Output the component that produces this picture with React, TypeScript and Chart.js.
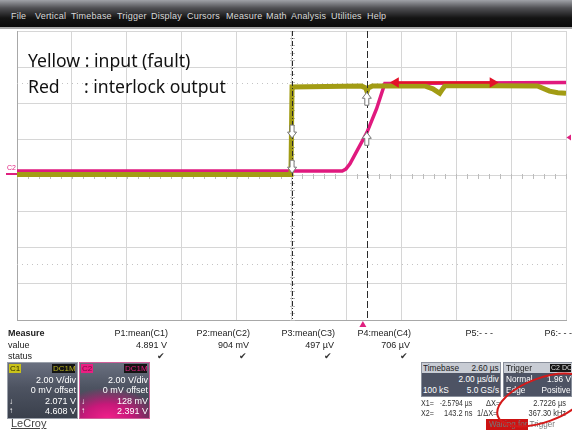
import React, { useEffect, useRef } from "react";
import { Chart, registerables } from "chart.js";

Chart.register(...registerables);

// ---------- data (µs, V) ----------
const X_MIN = -12.6;
const X_MAX = 7.4;
const X_DIV = 2; // 2 µs/div
const Y_MIN = -8;
const Y_MAX = 8;
const Y_DIV = 2; // 2 V/div

const yellowTime = [-12.6, -2.62, -2.58, -0.05, 0.1, 0.15, 0.2, 0.35, 2.25, 2.55, 2.8, 2.9, 3.0, 6.36, 6.8, 7.1, 7.4];
const yellowVolts = [0.05, 0.05, 4.9, 4.95, 4.85, 4.65, 4.85, 4.96, 4.96, 4.8, 4.55, 4.78, 4.98, 4.96, 4.67, 4.58, 4.55];

const redTime = [-12.6, -0.75, -0.62, -0.47, 0.15, 0.5, 0.8, 7.4];
const redVolts = [0.25, 0.25, 0.35, 0.65, 2.39, 3.7, 5.1, 5.15];

const markerTime = [1.2, 4.73];
const markerVolts = [5.15, 5.15];

const cursorTimes = [-2.5794, 0.1432];
const cursorC1 = [2.071, 4.608];
const cursorC2 = [0.128, 2.391];

const refLevels = [5.1, -4.9];
const triggerLevel = 2.1;
const triggerTime = 0;

const menuItems = ["File", "Vertical", "Timebase", "Trigger", "Display", "Cursors", "Measure", "Math", "Analysis", "Utilities", "Help"];
const menuX = [11, 35, 71, 117, 151, 187, 226, 266, 291, 331, 367];

const measNames = ["P1:mean(C1)", "P2:mean(C2)", "P3:mean(C3)", "P4:mean(C4)", "P5:- - -", "P6:- - -"];
const measValues = ["4.891 V", "904 mV", "497 µV", "706 µV", "", ""];
const measStatus = [true, true, true, true, false, false];
const measRight = [168, 250, 335, 411, 493, 572];

const font = "'Liberation Sans', Arial, sans-serif";

function Txt(props: any) {
  const { x, y, r, children, size = 9, color = "#222", bold = false, style = {}, fam = font, sx } = props;
  const s: any = {
    position: "absolute",
    top: y - size * 0.6,
    fontSize: size,
    lineHeight: `${size * 1.2}px`,
    color,
    fontWeight: bold ? 700 : 400,
    whiteSpace: "nowrap",
    fontFamily: fam,
    ...style,
  };
  if (r !== undefined) s.right = 572 - r;
  else s.left = x;
  if (sx) {
    s.transform = `scaleX(${sx})`;
    s.transformOrigin = r !== undefined ? "right center" : "left center";
  }
  return <div style={s}>{children}</div>;
}

const scopePlugin = {
  id: "scope",
  beforeDatasetsDraw(chart: any) {
    const { ctx, chartArea: a, scales } = chart;
    const xs = scales.x, ys = scales.y;
    ctx.save();
    ctx.strokeStyle = "#c4c4c4";
    ctx.lineWidth = 1;
    ctx.setLineDash([1, 4]);
    for (const v of refLevels) {
      const py = Math.round(ys.getPixelForValue(v)) + 0.5;
      ctx.beginPath();
      ctx.moveTo(a.left, py);
      ctx.lineTo(a.right, py);
      ctx.stroke();
    }
    ctx.setLineDash([]);
    ctx.strokeStyle = "#bcbcbc";
    const cy = Math.round(ys.getPixelForValue(0)) + 0.5;
    for (let t = X_MIN; t <= X_MAX + 1e-6; t += X_DIV / 5) {
      const px = Math.round(xs.getPixelForValue(t)) + 0.5;
      ctx.beginPath();
      ctx.moveTo(px, cy - 2.5);
      ctx.lineTo(px, cy + 2.5);
      ctx.stroke();
    }
    const cx = Math.round(xs.getPixelForValue((X_MIN + X_MAX) / 2)) + 0.5;
    for (let v = Y_MIN; v <= Y_MAX + 1e-6; v += Y_DIV / 5) {
      const py = Math.round(ys.getPixelForValue(v)) + 0.5;
      ctx.beginPath();
      ctx.moveTo(cx - 2.5, py);
      ctx.lineTo(cx + 2.5, py);
      ctx.stroke();
    }
    ctx.restore();
  },
  afterDatasetsDraw(chart: any) {
    const { ctx, chartArea: a, scales } = chart;
    const xs = scales.x, ys = scales.y;
    ctx.save();
    ctx.strokeStyle = "#2a2a2a";
    ctx.lineWidth = 1;
    cursorTimes.forEach((t, i) => {
      const px = Math.round(xs.getPixelForValue(t)) + 0.5;
      ctx.setLineDash(i === 0 ? [5, 2, 1, 2] : [7, 3]);
      ctx.beginPath();
      ctx.moveTo(px, a.top);
      ctx.lineTo(px, a.bottom);
      ctx.stroke();
    });
    ctx.setLineDash([]);
    const arrow = (x: number, tip: number, dir: number) => {
      const h = 13, headL = 6, headW = 4.5, shaftW = 2;
      const base = tip - dir * h;
      const neck = tip - dir * headL;
      ctx.beginPath();
      ctx.moveTo(x - shaftW, base);
      ctx.lineTo(x + shaftW, base);
      ctx.lineTo(x + shaftW, neck);
      ctx.lineTo(x + headW, neck);
      ctx.lineTo(x, tip);
      ctx.lineTo(x - headW, neck);
      ctx.lineTo(x - shaftW, neck);
      ctx.closePath();
      ctx.fillStyle = "#ffffff";
      ctx.fill();
      ctx.strokeStyle = "#777";
      ctx.lineWidth = 1;
      ctx.stroke();
    };
    cursorTimes.forEach((t, i) => {
      const px = xs.getPixelForValue(t);
      const dir = i === 0 ? 1 : -1;
      arrow(px, ys.getPixelForValue(cursorC1[i]), dir);
      arrow(px, ys.getPixelForValue(cursorC2[i]), dir);
    });
    ctx.fillStyle = "#e0207f";
    const tl = ys.getPixelForValue(triggerLevel);
    ctx.beginPath();
    ctx.moveTo(a.right + 0.5, tl);
    ctx.lineTo(a.right + 5, tl - 3);
    ctx.lineTo(a.right + 5, tl + 3);
    ctx.closePath();
    ctx.fill();
    const tp = xs.getPixelForValue(triggerTime);
    ctx.beginPath();
    ctx.moveTo(tp, a.bottom + 1);
    ctx.lineTo(tp + 3.5, a.bottom + 7);
    ctx.lineTo(tp - 3.5, a.bottom + 7);
    ctx.closePath();
    ctx.fill();
    ctx.restore();
  },
};

function ScopeChart() {
  const ref = useRef<HTMLCanvasElement | null>(null);
  useEffect(() => {
    if (!ref.current) return;
    const toXY = (ts: number[], vs: number[]) => ts.map((t, i) => ({ x: t, y: vs[i] }));
    const chart = new Chart(ref.current, {
      type: "line",
      data: {
        datasets: [
          {
            label: "marker",
            data: toXY(markerTime, markerVolts),
            borderColor: "#e3122a",
            backgroundColor: "#e3122a",
            borderWidth: 2.5,
            pointRadius: 6,
            pointStyle: "triangle",
            pointRotation: [-90, 90] as any,
            pointBorderWidth: 0,
            order: 0,
          },
          {
            label: "Yellow",
            data: toXY(yellowTime, yellowVolts),
            borderColor: "#a29c14",
            borderWidth: 5,
            pointRadius: 0,
            tension: 0,
            order: 1,
          },
          {
            label: "Red",
            data: toXY(redTime, redVolts),
            borderColor: "#e0197e",
            borderWidth: 3.5,
            pointRadius: 0,
            tension: 0,
            order: 2,
          },
        ],
      },
      options: {
        responsive: false,
        animation: false,
        events: [],
        layout: { padding: { left: 17, top: 31, right: 5, bottom: 112 } },
        plugins: { legend: { display: false }, tooltip: { enabled: false } },
        scales: {
          x: {
            type: "linear",
            min: X_MIN,
            max: X_MAX,
            afterBuildTicks: (s: any) => {
              s.ticks = Array.from({ length: 11 }, (_, i) => ({ value: X_MIN + X_DIV * i }));
            },
            ticks: { display: false },
            grid: { color: "#d6d6d6", drawTicks: false, lineWidth: 1 },
            border: { display: true, color: "#a8a8a8" },
          },
          y: {
            type: "linear",
            min: Y_MIN,
            max: Y_MAX,
            afterBuildTicks: (s: any) => {
              s.ticks = Array.from({ length: 9 }, (_, i) => ({ value: Y_MIN + Y_DIV * i }));
            },
            ticks: { display: false },
            grid: { color: "#d6d6d6", drawTicks: false, lineWidth: 1 },
            border: { display: true, color: "#a8a8a8" },
          },
        },
      },
      plugins: [scopePlugin],
    } as any);
    return () => chart.destroy();
  }, []);
  return <canvas ref={ref} width={572} height={432} style={{ position: "absolute", left: 0, top: 0, width: 572, height: 432 }} />;
}

const boxBg = "linear-gradient(#6a7080, #4d5361 45%, #3a404c)";

export default function App() {
  return (
    <div style={{ position: "absolute", left: 0, top: 0, width: 572, height: 432, overflow: "hidden", background: "#fff", fontFamily: font }}>
      <div style={{ position: "absolute", left: 0, top: 0, width: 572, height: 27, background: "linear-gradient(#a0a2a8 0px, #505054 8px, #141414 18px, #0a0a0a 27px)", borderBottom: "2px solid #a8a8a8" }} />
      {menuItems.map((m, i) => (
        <Txt key={m} x={menuX[i]} y={16} size={9} color="#d8d8d8" style={{ letterSpacing: 0.2 }}>{m}</Txt>
      ))}

      <ScopeChart />

      {/* C2 ground marker */}
      <div style={{ position: "absolute", left: 6, top: 173, width: 11, height: 2, background: "#e0207f" }} />
      <Txt x={7} y={168.5} size={7} color="#e0207f">C2</Txt>

      <Txt x={28} y={61} size={17.6} color="#111" fam="'Noto Sans', sans-serif">Yellow : input (fault)</Txt>
      <Txt x={28} y={87} size={17.6} color="#111" fam="'Noto Sans', sans-serif">Red</Txt>
      <Txt x={84} y={87} size={17.6} color="#111" fam="'Noto Sans', sans-serif">: interlock output</Txt>

      <Txt x={8} y={333} bold>Measure</Txt>
      <Txt x={8} y={345}>value</Txt>
      <Txt x={8} y={356}>status</Txt>
      {measNames.map((n, i) => (
        <React.Fragment key={n}>
          <Txt r={measRight[i]} y={333}>{n}</Txt>
          {measValues[i] && <Txt r={measRight[i] - 1} y={345}>{measValues[i]}</Txt>}
          {measStatus[i] && <Txt r={measRight[i] - 3} y={356} color="#333">✔</Txt>}
        </React.Fragment>
      ))}

      {/* C1 box */}
      <div style={{ position: "absolute", left: 7, top: 362, width: 69, height: 55, background: boxBg, border: "1px solid #9aa0aa" }} />
      <div style={{ position: "absolute", left: 9, top: 364, width: 12, height: 9, background: "#c9c21a" }} />
      <Txt x={10} y={368.5} size={8} color="#2a2a00">C1</Txt>
      <div style={{ position: "absolute", left: 52, top: 364, width: 23, height: 9, background: "#141414" }} />
      <Txt x={53} y={368.5} size={8} color="#b8b020">DC1M</Txt>
      <Txt r={76} y={380} color="#fff">2.00 V/div</Txt>
      <Txt r={76} y={390} color="#fff">0 mV offset</Txt>
      <Txt x={9} y={402} size={8} color="#fff">↓</Txt>
      <Txt r={76} y={401} color="#fff">2.071 V</Txt>
      <Txt x={9} y={411} size={8} color="#fff">↑</Txt>
      <Txt r={76} y={411} color="#fff">4.608 V</Txt>

      {/* C2 box */}
      <div style={{ position: "absolute", left: 79, top: 362, width: 69, height: 55, background: "radial-gradient(ellipse 75% 55% at 40% 100%, #f0208a 0%, #c8187a 45%, rgba(80,60,80,0) 100%), " + boxBg, border: "1px solid #d0609a" }} />
      <div style={{ position: "absolute", left: 81, top: 364, width: 12, height: 9, background: "#ea1f82" }} />
      <Txt x={82} y={368.5} size={8} color="#7a0a40">C2</Txt>
      <div style={{ position: "absolute", left: 124, top: 364, width: 23, height: 9, background: "#141414" }} />
      <Txt x={125} y={368.5} size={8} color="#e0207f">DC1M</Txt>
      <Txt r={148} y={380} color="#fff">2.00 V/div</Txt>
      <Txt r={148} y={390} color="#fff">0 mV offset</Txt>
      <Txt x={81} y={402} size={8} color="#fff">↓</Txt>
      <Txt r={148} y={401} color="#fff">128 mV</Txt>
      <Txt x={81} y={411} size={8} color="#fff">↑</Txt>
      <Txt r={148} y={411} color="#fff">2.391 V</Txt>

      <Txt x={11} y={424} size={11} color="#444" style={{ textDecoration: "underline" }}>LeCroy</Txt>

      {/* Timebase box */}
      <div style={{ position: "absolute", left: 421, top: 362, width: 80, height: 35, background: "#4d5364", border: "1px solid #8a909c", boxSizing: "border-box" }} />
      <div style={{ position: "absolute", left: 422, top: 363, width: 78, height: 10, background: "#c8ccd4" }} />
      <Txt x={423} y={368} color="#222" sx={0.92}>Timebase</Txt>
      <Txt r={499} y={368} color="#222" sx={0.92}>2.60 µs</Txt>
      <Txt r={499} y={379} color="#fff" sx={0.92}>2.00 µs/div</Txt>
      <Txt x={423} y={390} color="#fff" sx={0.92}>100 kS</Txt>
      <Txt r={499} y={390} color="#fff" sx={0.92}>5.0 GS/s</Txt>

      {/* Trigger box */}
      <div style={{ position: "absolute", left: 503, top: 362, width: 69, height: 35, background: "#4d5364", border: "1px solid #8a909c", boxSizing: "border-box" }} />
      <div style={{ position: "absolute", left: 504, top: 363, width: 68, height: 10, background: "#c8ccd4" }} />
      <Txt x={506} y={368} color="#222" sx={0.92}>Trigger</Txt>
      <div style={{ position: "absolute", left: 550, top: 364, width: 21, height: 8, background: "#151515" }} />
      <Txt x={551} y={368} size={7} color="#ddd">C2 DC</Txt>
      <Txt x={506} y={379} color="#fff" sx={0.92}>Normal</Txt>
      <Txt r={571} y={379} color="#fff" sx={0.92}>1.96 V</Txt>
      <Txt x={506} y={390} color="#fff" sx={0.92}>Edge</Txt>
      <Txt r={571} y={390} color="#fff" sx={0.92}>Positive</Txt>

      {/* cursor readout */}
      <Txt x={421} y={403} size={9.5} color="#333" sx={0.75}>X1=</Txt>
      <Txt r={472} y={403} size={9.5} color="#333" sx={0.72}>-2.5794 µs</Txt>
      <Txt x={486} y={403} size={9.5} color="#333" sx={0.78}>ΔX=</Txt>
      <Txt r={566} y={403} size={9.5} color="#333" sx={0.78}>2.7226 µs</Txt>
      <Txt x={421} y={413} size={9.5} color="#333" sx={0.75}>X2=</Txt>
      <Txt r={472} y={413} size={9.5} color="#333" sx={0.78}>143.2 ns</Txt>
      <Txt x={477} y={413} size={9.5} color="#333" sx={0.78}>1/ΔX=</Txt>
      <Txt r={566} y={413} size={9.5} color="#333" sx={0.78}>367.30 kHz</Txt>

      <div style={{ position: "absolute", left: 486, top: 419, width: 42, height: 11, background: "#cc1212" }} />
      <Txt x={489} y={424.5} color="#777" sx={0.9}>Waiting for Trigger</Txt>

      <svg width={572} height={432} style={{ position: "absolute", left: 0, top: 0, pointerEvents: "none" }}>
        <ellipse cx={543} cy={400} rx={48} ry={22} transform="rotate(-20 543 400)" fill="none" stroke="#d41a1a" strokeWidth={2} />
      </svg>
    </div>
  );
}
